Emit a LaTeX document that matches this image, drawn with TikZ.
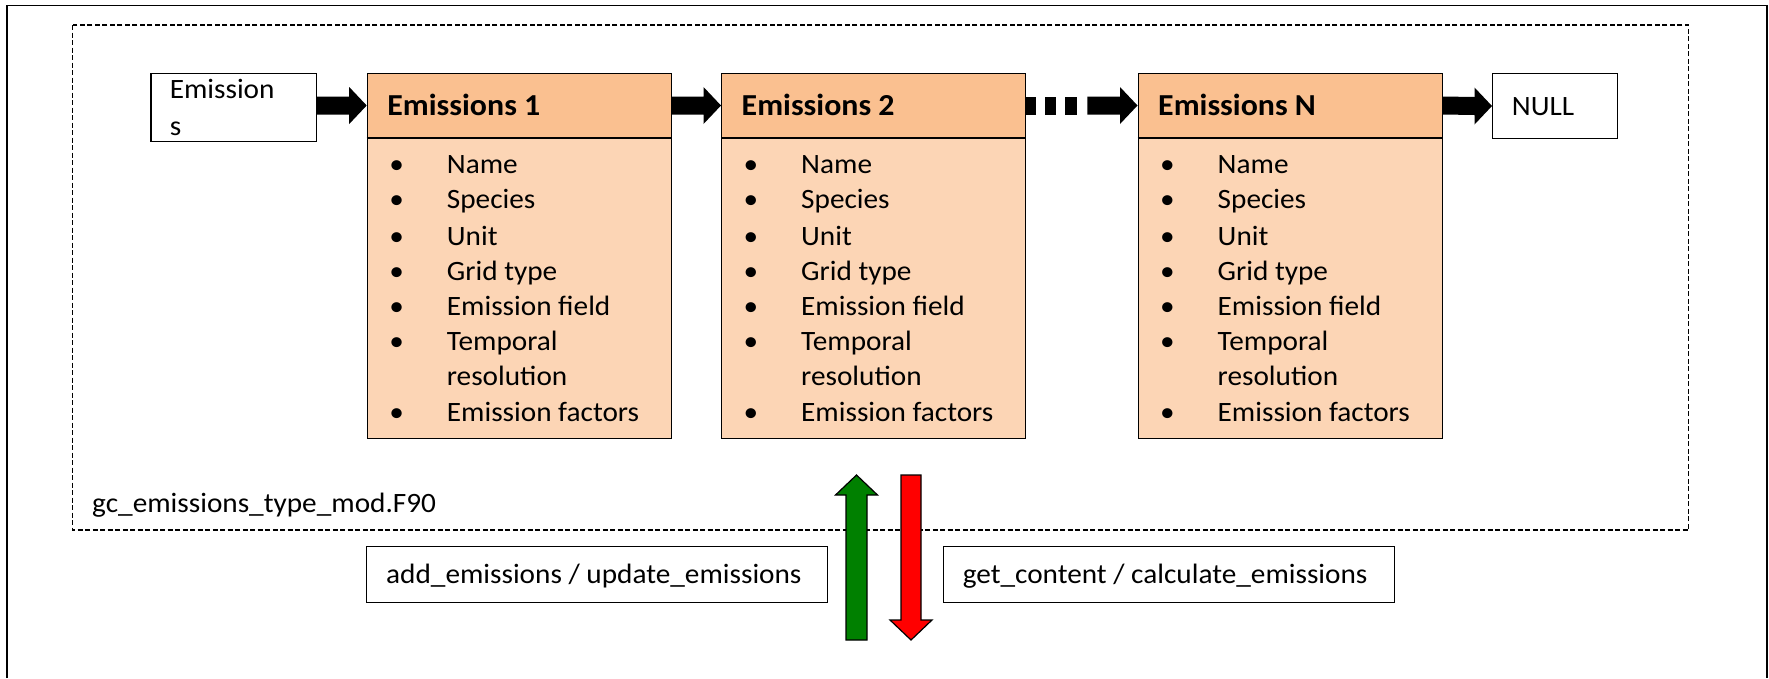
\documentclass[tikz,border=0pt]{standalone}
\usepackage{fontspec}
\setmainfont[FakeStretch=1.045]{Carlito}
\usetikzlibrary{calc}
\definecolor{hdr}{HTML}{FAC090}
\definecolor{bdy}{HTML}{FCD5B5}
\definecolor{grn}{HTML}{008000}
\definecolor{rd}{HTML}{FF0000}
\tikzset{
  txt/.style={font=\fontsize{28}{32}\selectfont, inner sep=0pt, anchor=base west},
  ttl/.style={font=\bfseries\fontsize{30.5}{34}\selectfont, inner sep=0pt, anchor=base west},
  hdrbox/.style={draw, line width=1.3pt, fill=hdr, minimum width=304pt, minimum height=64.3pt, inner sep=0pt, anchor=north west},
  bdybox/.style={draw, line width=1.3pt, fill=bdy, minimum width=304pt, minimum height=301pt, inner sep=0pt, anchor=north west},
  plainbox/.style={draw, line width=1.3pt, fill=white, inner sep=0pt, anchor=north west},
  bigarrow/.style={draw, line width=1.2pt},
  outerline/.style={line width=1.7pt},
  modline/.style={line width=1.2pt, dash pattern=on 5pt off 2.5pt},
}
\newcommand\ebox[3]{%
  \node[bdybox] (#1b) at (#2,137) {};
  \node[hdrbox] (#1h) at (#2,72.7) {};
  \draw[line width=2pt] (#1h.south west) -- (#1h.south east);
  \node[ttl] (#1t) at (#2+20.5,115) {#3};
  \foreach \t/\yy/\k in {Name/173/1, Species/208/2, Unit/245/3, Grid type/280/4, Emission field/315/5, Temporal/350/6, resolution/385/7, Emission factors/421/8}{
    \node[txt] (#1r\k) at (#2+80,\yy) {\t};
  }
  \foreach \yy/\k in {173/1, 208/2, 245/3, 280/4, 315/5, 350/6, 421/8}{
    \node[txt] (#1d\k) at (#2+22.5,\yy) {\textbullet};
  }
}
\newcommand\blkarr[2]{%
  \fill ($(#1)+(0,-9)$) -- ($(#2)+(-17.5,-9)$) -- ($(#2)+(-17.5,-18.5)$) -- (#2)
    -- ($(#2)+(-17.5,18.5)$) -- ($(#2)+(-17.5,9)$) -- ($(#1)+(0,9)$) -- cycle;
}
\begin{document}
\begin{tikzpicture}[x=1pt, y=-1pt]
\useasboundingbox (0,0) rectangle (1769,678);
% outer frame
\draw[outerline] (7,678) -- (7,5.5) -- (1767,5.5) -- (1767,678);
% module frame
\draw[modline] (72.5,25) rectangle (1688.7,530);
\node[txt] (gc) at (92,512) {gc\_emissions\_type\_mod.F90};

% list head
\node[plainbox, minimum width=165.2pt, minimum height=68pt] (em) at (150.4,72.7) {};
\node[txt] (emt1) at (169.6,98) {Emission};
\node[txt] (emt2) at (169.6,135) {s};

% elements
\ebox{e1}{366.7}{Emissions 1}
\ebox{e2}{721}{Emissions 2}
\ebox{en}{1137.5}{Emissions N}

% NULL
\node[plainbox, minimum width=125pt, minimum height=65.3pt] (null) at (1492,72.7) {};
\node[txt] (nullt) at (1511.7,115) {NULL};

% black arrows
\coordinate (s1) at (em.east |- e1h.west);
\blkarr{s1}{e1h.west}
\blkarr{e1h.east}{e2h.west}
\coordinate (d0) at (e2h.east);
\fill ($(d0)+(0,-9)$) rectangle ($(d0)+(10,9)$);
\fill ($(d0)+(19,-9)$) rectangle ($(d0)+(30,9)$);
\fill ($(d0)+(39,-9)$) rectangle ($(d0)+(51,9)$);
\coordinate (d1) at ($(d0)+(61,0)$);
\blkarr{d1}{enh.west}
\blkarr{enh.east}{null.west}

% call boxes
\node[plainbox, minimum width=460.6pt, minimum height=55.7pt] (add) at (366,546) {};
\node[txt] (addt) at (386,583) {add\_emissions / update\_emissions};
\node[plainbox, minimum width=451.3pt, minimum height=55.7pt] (get) at (942.7,546) {};
\node[txt] (gett) at (962.6,583) {get\_content / calculate\_emissions};

% green up arrow
\coordinate (gtop) at (856.5,475);
\coordinate (gbot) at (856.5,640);
\filldraw[bigarrow, fill=grn] ($(gbot)+(-10.5,0)$) -- ($(gtop)+(-10.5,20)$) -- ($(gtop)+(-21,20)$) -- (gtop)
  -- ($(gtop)+(21,20)$) -- ($(gtop)+(10.5,20)$) -- ($(gbot)+(10.5,0)$) -- cycle;
% red down arrow
\coordinate (rtop) at (911,475);
\coordinate (rbot) at (911,640);
\filldraw[bigarrow, fill=rd] ($(rtop)+(-10,0)$) -- ($(rbot)+(-10,-20)$) -- ($(rbot)+(-21,-20)$) -- (rbot)
  -- ($(rbot)+(21,-20)$) -- ($(rbot)+(10,-20)$) -- ($(rtop)+(10,0)$) -- cycle;
\end{tikzpicture}
\end{document}
